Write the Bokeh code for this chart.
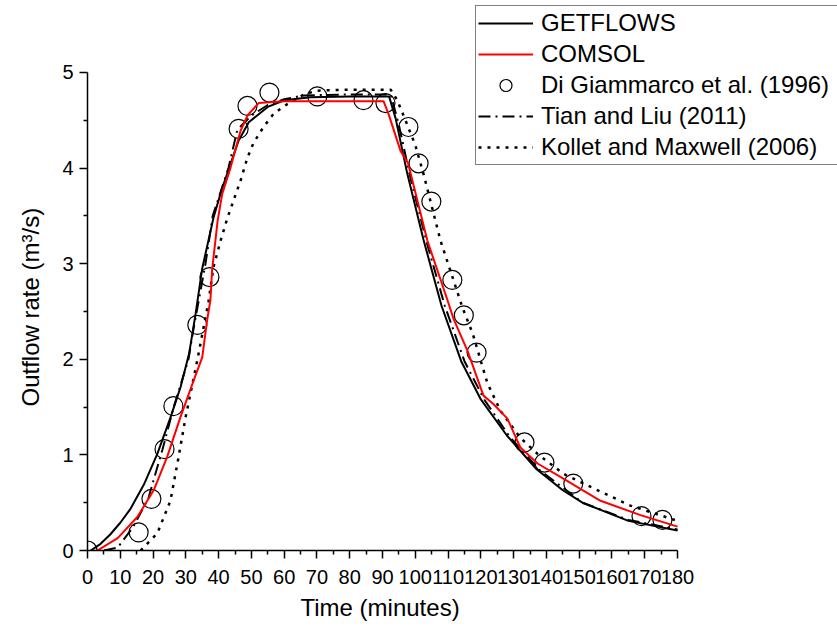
from bokeh.plotting import figure
from bokeh.models import Range1d, FixedTicker, Legend, LegendItem, Title
from bokeh.embed import file_html
from bokeh.resources import INLINE

# ---- data ----
getflows_t = [1, 4, 7, 10, 13, 17.2, 21.3, 25.3, 28.4, 31, 33, 35, 38.5, 41, 43, 46, 49.2, 55, 60, 68, 80, 92,
              94, 97.5, 102.5, 108, 114, 120, 128, 137, 145, 151, 165, 180]
getflows_v = [0, 0.07, 0.17, 0.29, 0.43, 0.69, 1.01, 1.39, 1.71, 2.06, 2.48, 2.95, 3.49, 3.78, 3.98, 4.28, 4.48, 4.64, 4.71, 4.74, 4.75, 4.75,
              4.52, 3.95, 3.25, 2.56, 1.98, 1.58, 1.2, 0.85, 0.63, 0.5, 0.31, 0.21]

comsol_t = [3, 9.2, 15.2, 20.2, 24.3, 28.3, 32.4, 35, 36.5, 37.5, 38, 39.7, 41.1, 43.6, 46.7, 48.8, 52.2, 60, 90.3,
            91.8, 95.5, 97.8, 103.7, 109.8, 111.7, 115.9, 120.8, 123.9, 128.1, 132, 137.3, 145.3, 156.5, 168.7, 180]
comsol_v = [0, 0.13, 0.35, 0.63, 0.98, 1.39, 1.78, 2.02, 2.41, 2.62, 2.93, 3.45, 3.73, 4.0, 4.39, 4.55, 4.68, 4.7, 4.7,
            4.57, 4.18, 4.05, 3.24, 2.62, 2.42, 2.09, 1.62, 1.53, 1.38, 1.08, 0.91, 0.75, 0.52, 0.37, 0.25]

digiammarco_t = [0, 15.6, 19.5, 23.5, 26.2, 33.5, 37.2, 46.1, 48.8, 55.5, 70.1, 84.2, 90.9, 97.9, 101.0, 104.9,
                 111.3, 114.8, 118.7, 133.3, 139.4, 148.2, 169.0, 175.4]
digiammarco_v = [0, 0.19, 0.54, 1.06, 1.51, 2.36, 2.86, 4.41, 4.65, 4.79, 4.75, 4.71, 4.68, 4.43, 4.05, 3.65,
                 2.83, 2.46, 2.07, 1.13, 0.92, 0.70, 0.36, 0.32]

tian_t = [5, 9.2, 14, 18.6, 22.9, 26.3, 30.8, 32.4, 36, 38.2, 43, 45.7, 50, 55, 60, 66, 80, 92.5,
          95, 98.5, 103.5, 109, 115, 121, 129, 138, 151, 165, 180]
tian_v = [0, 0.03, 0.25, 0.55, 1.06, 1.5, 2.0, 2.33, 3.0, 3.5, 4.0, 4.4, 4.55, 4.66, 4.72, 4.76, 4.77, 4.77,
          4.45, 3.9, 3.22, 2.56, 1.98, 1.58, 1.18, 0.84, 0.5, 0.32, 0.22]

kollet_t = [16.2, 21.3, 25.3, 27.8, 29.9, 33.5, 36.9, 38.4, 40.6, 42.7, 46.7, 48.8, 50.6, 53.7, 56.8, 61, 66, 70, 80, 92.5,
            94.5, 97, 100, 102.5, 107.7, 114.4, 117.5, 122, 126, 132, 137.3, 145.3, 157.5, 165.6, 180]
kollet_v = [0, 0.18, 0.52, 0.98, 1.39, 1.99, 2.6, 2.96, 3.24, 3.48, 3.87, 4.11, 4.26, 4.43, 4.57, 4.67, 4.77, 4.81, 4.82, 4.82,
            4.71, 4.5, 4.24, 3.94, 3.24, 2.54, 2.27, 1.75, 1.46, 1.18, 1.01, 0.8, 0.6, 0.47, 0.31]

x_ticks = list(range(0, 181, 10))
x_minor = list(range(5, 180, 10))
y_ticks = [0, 1, 2, 3, 4, 5]
y_minor = [0.5, 1.5, 2.5, 3.5, 4.5]
x_label = "Time (minutes)"
y_label = "Outflow rate (m³/s)"

FONT = "Liberation Sans"

# frame covers x 87..837 px and y 0..550 px; axes are bounded to the data extent
p = figure(width=837, height=628, output_backend="svg", toolbar_location=None,
           x_range=Range1d(0, 228.8), y_range=Range1d(0, 5.753),
           min_border_left=87, min_border_bottom=78, min_border_top=0, min_border_right=0)
p.outline_line_color = None
p.xgrid.visible = False
p.ygrid.visible = False
p.background_fill_color = "white"
p.border_fill_color = "white"

for ax in (p.xaxis[0], p.yaxis[0]):
    ax.axis_line_width = 1.5
    ax.axis_line_color = "black"
    ax.major_tick_line_width = 1.5
    ax.minor_tick_line_width = 1.5
    ax.major_tick_in = 0
    ax.major_tick_out = 8
    ax.minor_tick_in = 0
    ax.minor_tick_out = 4
    ax.major_label_text_font = FONT
    ax.major_label_text_font_size = "20px"
    ax.major_label_text_color = "black"

p.xaxis[0].ticker = FixedTicker(ticks=x_ticks, minor_ticks=x_minor)
p.yaxis[0].ticker = FixedTicker(ticks=y_ticks, minor_ticks=y_minor)
p.xaxis[0].bounds = (0, 180)
p.yaxis[0].bounds = (0, 5)
p.xaxis[0].major_label_standoff = 11
p.yaxis[0].major_label_standoff = 6

# axis titles as side-panel titles so they can be centred on the bounded axes
yt = Title(text=y_label, align="left", offset=144, vertical_align="middle", standoff=30,
           text_font=FONT, text_font_size="24px", text_font_style="normal", text_color="black")
xt = Title(text=x_label, align="left", offset=213, vertical_align="bottom", standoff=10,
           text_font=FONT, text_font_size="24px", text_font_style="normal", text_color="black")
p.add_layout(yt, "left")
p.add_layout(xt, "below")

r_circ = p.scatter(digiammarco_t, digiammarco_v, marker="circle", size=19,
                   fill_color=None, line_color="black", line_width=1.2)
r_get = p.line(getflows_t, getflows_v, line_color="black", line_width=2)
r_tian = p.line(tian_t, tian_v, line_color="black", line_width=2, line_dash="12 5 2 5")
r_kol = p.line(kollet_t, kollet_v, line_color="black", line_width=2.5, line_dash="3 6")
r_com = p.line(comsol_t, comsol_v, line_color="#ff0000", line_width=2)

legend = Legend(items=[
    LegendItem(label="GETFLOWS", renderers=[r_get]),
    LegendItem(label="COMSOL", renderers=[r_com]),
    LegendItem(label="Di Giammarco et al. (1996)", renderers=[r_circ]),
    LegendItem(label="Tian and Liu (2011)", renderers=[r_tian]),
    LegendItem(label="Kollet and Maxwell (2006)", renderers=[r_kol]),
], location=(388, 385))
legend.label_text_font = FONT
legend.label_text_font_size = "24px"
legend.label_text_color = "black"
legend.glyph_width = 55
legend.glyph_height = 30
legend.label_height = 30
legend.label_width = 320
legend.label_standoff = 8
legend.spacing = 1
legend.padding = 2
legend.margin = 0
legend.border_line_color = "black"
legend.border_line_width = 1.2
legend.background_fill_color = "white"
legend.background_fill_alpha = 1.0
p.add_layout(legend)

open("out.html", "w").write(file_html(p, INLINE))
